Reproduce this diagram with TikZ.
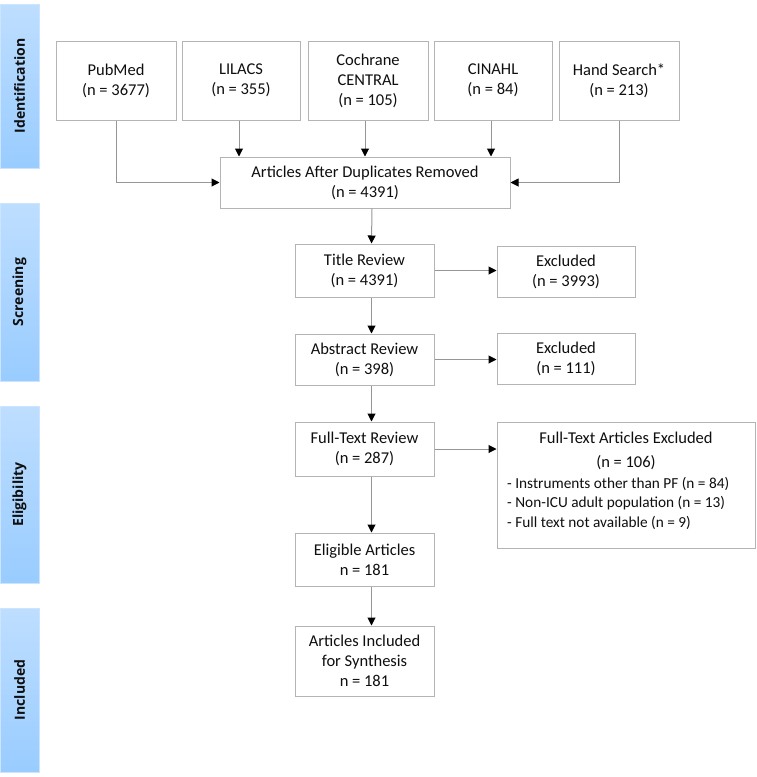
\documentclass[tikz,border=0pt]{standalone}
\usepackage{fontspec}
\setmainfont{Carlito}
\newfontfamily\sidefont{Open Sans}
\usetikzlibrary{arrows.meta,calc}
\definecolor{boxgray}{RGB}{180,180,180}
\definecolor{linegray}{RGB}{150,150,150}
\definecolor{bartop}{RGB}{190,222,255}
\definecolor{barbot}{RGB}{153,204,255}
\definecolor{barline}{RGB}{205,228,255}
\definecolor{txt}{RGB}{15,15,15}
\begin{document}
\begin{tikzpicture}[x=1pt,y=-1pt,
  box/.style={draw=boxgray, line width=1pt, fill=white, align=center, inner sep=0pt, text=txt, font=\fontsize{16.5}{20}\selectfont},
  arr/.style={draw=linegray, line width=1pt, -{Triangle[length=8pt,width=8pt,color=black]}},
  bar/.style={draw=barline, line width=0.6pt, top color=bartop, bottom color=barbot, inner sep=0pt, minimum width=39pt},
  sidelbl/.style={rotate=90, text=txt, font=\sidefont\bfseries\fontsize{14}{16}\selectfont},
  txtmain/.style={text=txt, inner sep=0pt, font=\fontsize{16.5}{20}\selectfont},
  txtsmall/.style={text=txt, inner sep=0pt, font=\fontsize{15.3}{19.5}\selectfont}
]
\useasboundingbox (0,0) rectangle (756,777);

% side bars
\node[bar, minimum height=164pt] (b1) at (19.5,86) {};
\node[sidelbl] (l1) at (b1.center) {Identification};
\node[bar, minimum height=178pt] (b2) at (19.5,292) {};
\node[sidelbl] (l2) at (b2.center) {Screening};
\node[bar, minimum height=177pt] (b3) at (19.5,494.5) {};
\node[sidelbl] (l3) at (b3.center) {Eligibility};
\node[bar, minimum height=164pt] (b4) at (19.5,690) {};
\node[sidelbl] (l4) at (b4.center) {Included};

% sources
\node[box, minimum width=120pt, minimum height=79pt] (pub) at (116,80.5) {PubMed\\(n = 3677)};
\node[box, minimum width=118pt, minimum height=79pt] (lil) at (241,80.5) {LILACS\\(n = 355)};
\node[box, minimum width=120pt, minimum height=79pt] (coc) at (368,80.5) {Cochrane\\CENTRAL\\(n = 105)};
\node[box, minimum width=118pt, minimum height=79pt] (cin) at (493,80.5) {CINAHL\\(n = 84)};
\node[box, minimum width=120pt, minimum height=79pt] (hand) at (619,80.5) {Hand Search*\\(n = 213)};

\node[box, minimum width=290pt, minimum height=51pt] (art) at (365,182.5) {Articles After Duplicates Removed\\(n = 4391)};

\node[box, minimum width=139pt, minimum height=53pt] (tit) at (364.5,270.5) {Title Review\\(n = 4391)};
\node[box, minimum width=138pt, minimum height=51pt] (ex1) at (566,271.5) {Excluded\\(n = 3993)};
\node[box, minimum width=139pt, minimum height=51pt] (abs) at (364.5,359.5) {Abstract Review\\(n = 398)};
\node[box, minimum width=138pt, minimum height=51pt] (ex2) at (566,358.5) {Excluded\\(n = 111)};
\node[box, minimum width=139pt, minimum height=54pt] (ftr) at (364.5,449) {Full-Text Review\\(n = 287)};
\node[box, minimum width=258pt, minimum height=126pt] (ftx) at (626,485) {};
\node[txtmain, anchor=base] (ftx1) at (626,443) {Full-Text Articles Excluded};
\node[txtmain, anchor=base] (ftx2) at (626,467) {(n = 106)};
\node[txtsmall, anchor=base west] (ftx3) at (507,488) {- Instruments other than PF (n = 84)};
\node[txtsmall, anchor=base west] (ftx4) at (507,507.5) {- Non-ICU adult population (n = 13)};
\node[txtsmall, anchor=base west] (ftx5) at (507,527) {- Full text not available (n = 9)};
\node[box, minimum width=139pt, minimum height=53pt] (eli) at (364.5,559.5) {Eligible Articles\\n = 181};
\node[box, minimum width=139pt, minimum height=70pt] (inc) at (364.5,661) {Articles Included\\for Synthesis\\n = 181};

% connectors
\draw[arr] (pub.south) |- (art.west);
\draw[arr] (hand.south) |- (art.east);
\draw[arr] ([xshift=-2pt]lil.south) -- ([xshift=-2pt]lil.south |- art.north);
\draw[arr] ([xshift=-3pt]coc.south) -- ([xshift=-3pt]coc.south |- art.north);
\draw[arr] ([xshift=-2pt]cin.south) -- ([xshift=-2pt]cin.south |- art.north);
\draw[arr] ([xshift=7pt]art.south) -- ([xshift=7pt]tit.north);
\draw[arr] ([xshift=7pt]tit.south) -- ([xshift=7pt]abs.north);
\draw[arr] ([xshift=7pt]abs.south) -- ([xshift=7pt]ftr.north);
\draw[arr] ([xshift=7pt]ftr.south) -- ([xshift=7pt]eli.north);
\draw[arr] ([xshift=7pt]eli.south) -- ([xshift=7pt]inc.north);
\draw[arr] (tit.east) -- (tit.east -| ex1.west);
\draw[arr] (abs.east) -- (abs.east -| ex2.west);
\draw[arr] (ftr.east) -- (ftr.east -| ftx.west);
\end{tikzpicture}
\end{document}
